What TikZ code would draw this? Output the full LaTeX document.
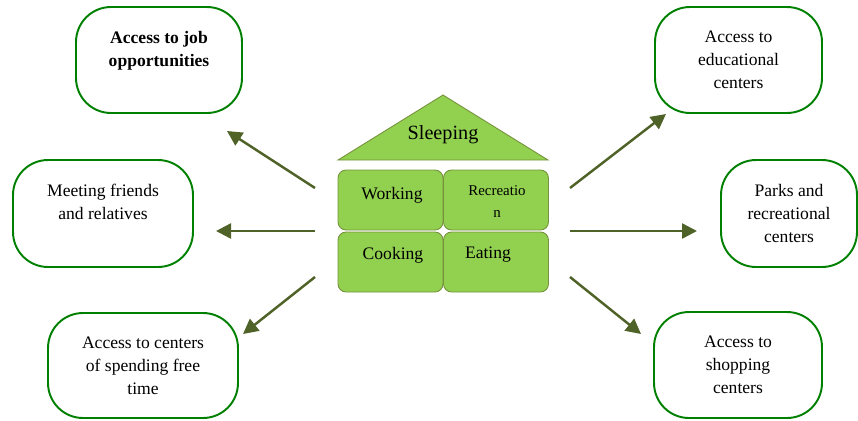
\documentclass[tikz,border=0pt]{standalone}
\usepackage{fontspec}
\setmainfont{Liberation Serif}
\usetikzlibrary{arrows.meta,positioning}
\definecolor{boxgreen}{RGB}{0,128,0}
\definecolor{roomfill}{RGB}{146,208,80}
\definecolor{roomline}{RGB}{118,146,60}
\definecolor{arrowolive}{RGB}{79,98,40}
\tikzset{
  outbox/.style={draw=boxgreen,line width=1.1pt,rounded corners=0.7cm,
    minimum height=2.12cm,inner sep=0pt},
  outtext/.style={font=\fontsize{10}{13}\selectfont,align=center,inner sep=0pt},
  room/.style={draw=roomline,fill=roomfill,line width=0.5pt,rounded corners=0.16cm,
    minimum width=2.1cm,minimum height=1.2cm,inner sep=0pt},
  roomtext/.style={font=\fontsize{10}{13}\selectfont,align=center,inner sep=0pt},
  goarrow/.style={draw=arrowolive,line width=1.4pt,-{Triangle[length=0.3cm,width=0.3cm]}}
}
\begin{document}
\begin{tikzpicture}[x=0.02cm,y=-0.02cm]
  \useasboundingbox (0,0) rectangle (858,420);
  % the house
  \draw[roomline,fill=roomfill,line width=0.5pt] (338,160) -- (548,160) -- (443,95) -- cycle;
  \node[roomtext,font=\fontsize{11.5}{14}\selectfont] (sleep) at (443,135) {Sleeping};
  \node[room] (work) at (390.5,200) {};
  \node[room] (recr) at (496,200) {};
  \node[room] (cook) at (390.5,262) {};
  \node[room] (eat) at (496,262) {};
  \node[roomtext] (worktxt) at (392,195) {Working};
  \node[roomtext,font=\fontsize{8.5}{12.5}\selectfont] (recrtxt) at (497,202) {Recreatio\\n};
  \node[roomtext] (cooktxt) at (393,255) {Cooking};
  \node[roomtext] (eattxt) at (488,255) {Eating};
  % boxes round the house
  \node[outbox,minimum width=3.32cm] (job) at (159,60) {};
  \node[outtext,below=0.5cm of job.north] (jobtxt) {\textbf{Access to job}\\\textbf{opportunities}};
  \node[outbox,minimum width=3.6cm,minimum height=2.14cm] (meet) at (103,213.5) {};
  \node[outtext,below=0.5cm of meet.north] (meettxt) {Meeting friends\\and relatives};
  \node[outbox,minimum width=3.8cm,minimum height=2.1cm] (spend) at (143,365.5) {};
  \node[outtext,below=0.5cm of spend.north] (spendtxt) {Access to centers\\of spending free\\time};
  \node[outbox,minimum width=3.34cm] (edu) at (738.5,60) {};
  \node[outtext,below=0.5cm of edu.north] (edutxt) {Access to\\educational\\centers};
  \node[outbox,minimum width=2.72cm,minimum height=2.14cm] (parks) at (789,213.5) {};
  \node[outtext,below=0.5cm of parks.north] (parkstxt) {Parks and\\recreational\\centers};
  \node[outbox,minimum width=3.36cm] (shop) at (738,365) {};
  \node[outtext,below=0.5cm of shop.north] (shoptxt) {Access to\\shopping\\centers};
  % arrows
  \coordinate (hl1) at (315,188);
  \coordinate (hl2) at (315,231);
  \coordinate (hl3) at (315,277);
  \coordinate (hr1) at (570,188);
  \coordinate (hr2) at (570,231);
  \coordinate (hr3) at (570,277);
  \coordinate (tojob) at (227,131);
  \coordinate (tomeet) at (216,231);
  \coordinate (tospend) at (243,334);
  \coordinate (toedu) at (666,114);
  \coordinate (toparks) at (697,231);
  \coordinate (toshop) at (641,334);
  \draw[goarrow] (hl1) -- (tojob);
  \draw[goarrow] (hl2) -- (tomeet);
  \draw[goarrow] (hl3) -- (tospend);
  \draw[goarrow] (hr1) -- (toedu);
  \draw[goarrow] (hr2) -- (toparks);
  \draw[goarrow] (hr3) -- (toshop);
\end{tikzpicture}
\end{document}
